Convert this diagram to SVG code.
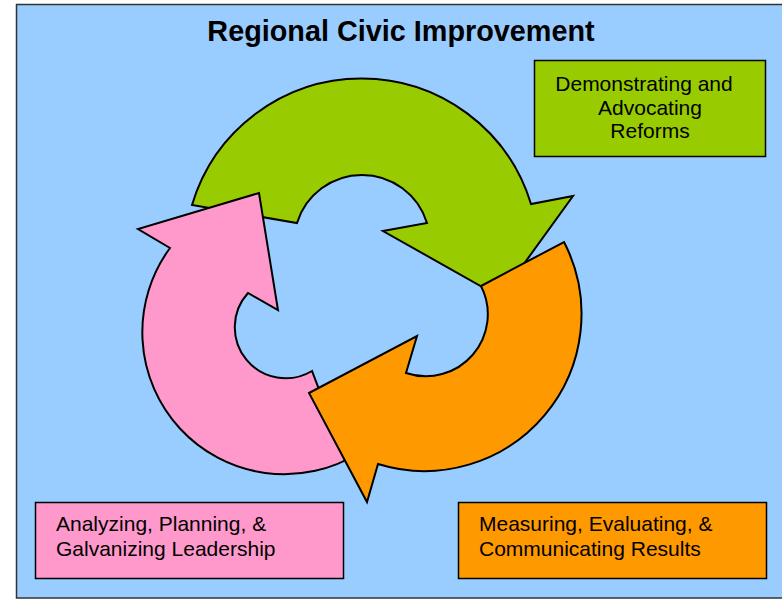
<svg xmlns="http://www.w3.org/2000/svg" width="782" height="600" viewBox="0 0 782 600">
  <style>
    .arrow { stroke: #000; stroke-width: 2; stroke-linejoin: miter; }
    .box { stroke: #000; stroke-width: 1.5; }
    .lbl { font-family: "Liberation Sans", Arial, sans-serif; font-size: 21px; fill: #000; }
    .title { font-family: "Liberation Sans", Arial, sans-serif; font-size: 28.8px; font-weight: bold; fill: #000; }
  </style>
  <rect x="0" y="0" width="782" height="600" fill="#ffffff"/>
  <rect id="frame" x="16.5" y="4.5" width="800" height="593.5" fill="#99CCFF" stroke="#333333" stroke-width="1.5"/>
  <text class="title" x="401" y="41" text-anchor="middle">Regional Civic Improvement</text>

  <g id="connectors">
    <path id="arrow-green" class="arrow" fill="#99CC00" d="M192,205 A177,177 0 0 1 531,204 L573,196 L500,297 L383,231 L427,223 A68,68 0 0 0 297,223 Z"/>
    <path id="arrow-pink" class="arrow" fill="#FF99CC" d="M170,248 L138,229 L259,193 L278,310 L248,293 A51,51 0 0 0 312,371 L320,392 L359,453 A142,142 0 0 1 170,248 Z"/>
    <path id="arrow-orange" class="arrow" fill="#FF9900" d="M564,242 A157,157 0 0 1 378,464 L367,502 L309,393 L417,336 L406,373 A62,62 0 0 0 481,286 Z"/>
  </g>

  <g id="node-demonstrating">
    <rect class="box" x="534.5" y="60.5" width="231" height="96" fill="#99CC00"/>
    <text class="lbl" x="644" y="91" text-anchor="middle">Demonstrating and</text>
    <text class="lbl" x="650" y="114.5" text-anchor="middle">Advocating</text>
    <text class="lbl" x="650" y="138" text-anchor="middle">Reforms</text>
  </g>

  <g id="node-analyzing">
    <rect class="box" x="35.5" y="502.5" width="308" height="76" fill="#FF99CC"/>
    <text class="lbl" x="56" y="531">Analyzing, Planning, &amp;</text>
    <text class="lbl" x="56" y="556">Galvanizing Leadership</text>
  </g>

  <g id="node-measuring">
    <rect class="box" x="458.5" y="502.5" width="308" height="76" fill="#FF9900"/>
    <text class="lbl" x="479" y="531">Measuring, Evaluating, &amp;</text>
    <text class="lbl" x="479" y="556">Communicating Results</text>
  </g>
</svg>
